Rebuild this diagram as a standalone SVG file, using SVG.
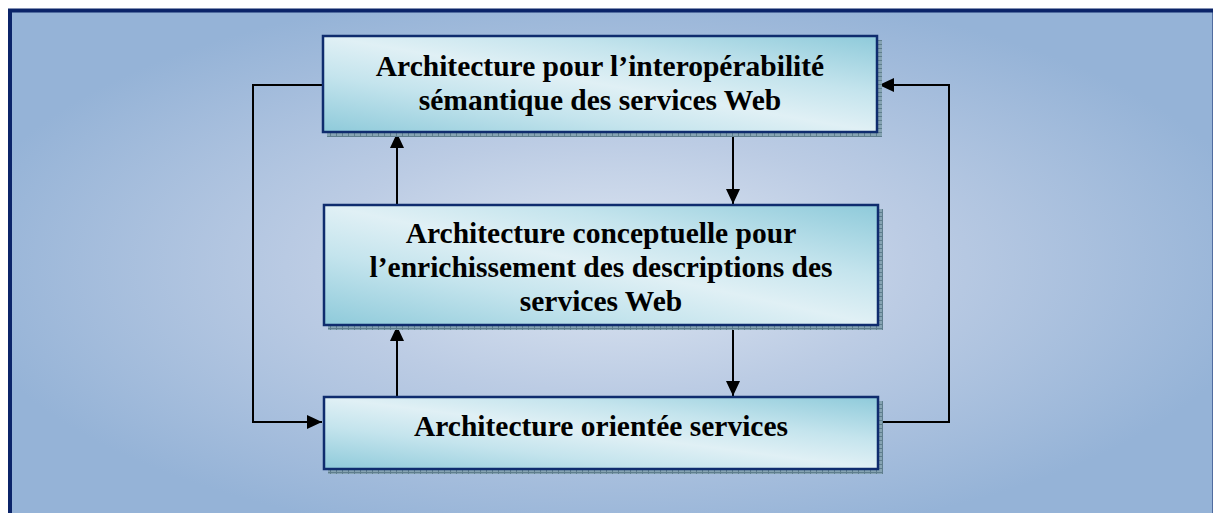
<svg xmlns="http://www.w3.org/2000/svg" width="1213" height="513" viewBox="0 0 1213 513">
  <style>
    .box { stroke: #0f2c6e; stroke-width: 2.5; fill: url(#boxGrad); }
    .shadow { fill: url(#hatch); }
    .lbl { font-family: "Liberation Serif", "Times New Roman", serif; font-weight: bold; font-size: 29.5px; fill: #000; text-anchor: middle; }
    .conn { fill: none; stroke: #000; stroke-width: 2; }
  </style>
  <defs>
    <radialGradient id="bgGrad" cx="0.5" cy="0.5" r="0.55" fx="0.5" fy="0.5">
      <stop offset="0" stop-color="#dfe7f2"/>
      <stop offset="0.45" stop-color="#bccce4"/>
      <stop offset="1" stop-color="#95b3d7"/>
    </radialGradient>
    <linearGradient id="boxGrad" x1="0" y1="1" x2="1" y2="0">
      <stop offset="0" stop-color="#8ecada"/>
      <stop offset="0.3" stop-color="#c4e4ed"/>
      <stop offset="0.5" stop-color="#e0f0f5"/>
      <stop offset="0.7" stop-color="#c4e4ed"/>
      <stop offset="1" stop-color="#8ecada"/>
    </linearGradient>
    <pattern id="hatch" width="6" height="4" patternUnits="userSpaceOnUse">
      <rect width="6" height="4" fill="#86a4b3"/>
      <path d="M0,0.5 H6 M0.5,0 V4" stroke="#5f7e8e" stroke-width="1"/>
    </pattern>
    <marker id="arr" viewBox="0 0 15 14" refX="15" refY="7" markerWidth="15" markerHeight="14" markerUnits="userSpaceOnUse" orient="auto">
      <path d="M0,0 L15,7 L0,14 z" fill="#000"/>
    </marker>
  </defs>

  <rect x="0" y="0" width="1213" height="513" fill="#ffffff"/>
  <rect id="frame" x="10" y="10.5" width="1204.5" height="510" fill="url(#bgGrad)" stroke="#0b2469" stroke-width="4"/>

  <g id="connectors">
    <path class="conn" d="M323,85 H253 V422 H322" marker-end="url(#arr)"/>
    <path class="conn" d="M878,422 H949 V85 H879" marker-end="url(#arr)"/>
    <path class="conn" d="M733,133 V204" marker-end="url(#arr)"/>
    <path class="conn" d="M733,326 V396" marker-end="url(#arr)"/>
    <path class="conn" d="M397,204 V133" marker-end="url(#arr)"/>
    <path class="conn" d="M397,396 V326" marker-end="url(#arr)"/>
  </g>

  <g id="node-semantique">
    <rect class="shadow" x="327" y="40" width="555" height="97"/>
    <rect class="box" x="323" y="36" width="554" height="96"/>
    <text class="lbl" x="600" y="76">Architecture pour l’interopérabilité</text>
    <text class="lbl" x="600" y="110">sémantique des services Web</text>
  </g>

  <g id="node-conceptuelle">
    <rect class="shadow" x="328" y="209" width="555" height="121"/>
    <rect class="box" x="324" y="205" width="554" height="120"/>
    <text class="lbl" x="601" y="243">Architecture conceptuelle pour</text>
    <text class="lbl" x="601" y="277">l’enrichissement des descriptions des</text>
    <text class="lbl" x="601" y="311">services Web</text>
  </g>

  <g id="node-soa">
    <rect class="shadow" x="328" y="401" width="555" height="73"/>
    <rect class="box" x="324" y="397" width="554" height="72"/>
    <text class="lbl" x="601" y="436">Architecture orientée services</text>
  </g>
</svg>
